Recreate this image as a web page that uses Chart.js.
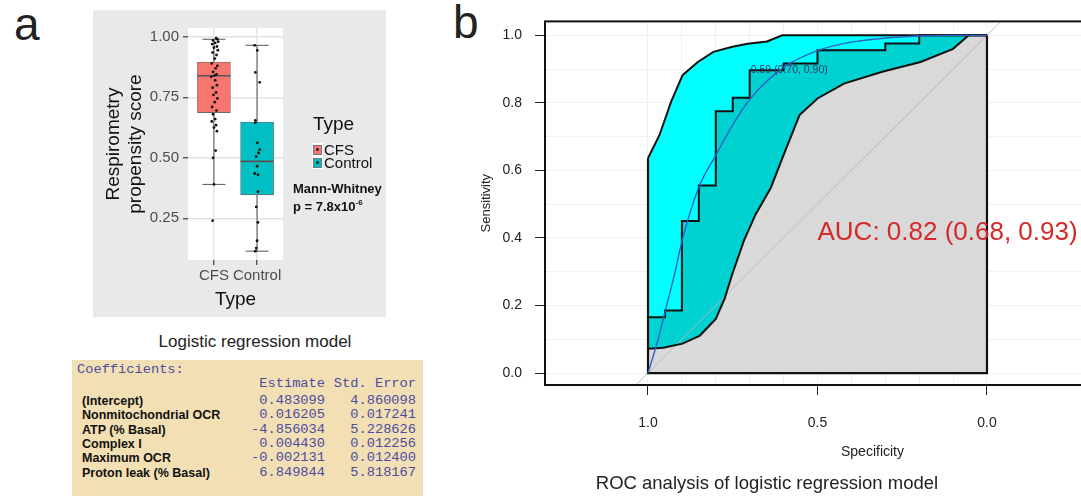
<!DOCTYPE html>
<html><head><meta charset="utf-8">
<title>Respirometry propensity score and ROC analysis</title>
<script src="https://cdn.jsdelivr.net/npm/chart.js@4.4.1/dist/chart.umd.min.js"></script>
<style>
 html,body{margin:0;padding:0;background:#fff;}
 body{width:1081px;height:498px;overflow:hidden;position:relative;font-family:"Liberation Sans",Arial,sans-serif;color:#111;}
 .t{position:absolute;white-space:nowrap;}
 #boxWrap{position:absolute;left:93px;top:10px;width:293px;height:307px;background:#e9e9e9;}
 #rocWrap{position:absolute;left:440px;top:0;width:641px;height:498px;overflow:hidden;}
 #coefTable{position:absolute;left:72px;top:360px;width:351px;height:136px;background:#f3dfb4;}
 .mono{font-family:"Liberation Mono","DejaVu Sans Mono",monospace;color:#4c4ca0;font-size:13.7px;line-height:14.3px;position:absolute;white-space:pre;}
 .rowlab{font-family:"Liberation Sans",Arial,sans-serif;font-weight:bold;font-size:12.5px;line-height:14.3px;color:#111;position:absolute;white-space:nowrap;}
 .key{position:absolute;width:7px;height:8px;border:1px solid #777;}
 .keydot{position:absolute;width:3px;height:3px;border-radius:50%;background:#222;}
</style></head><body>

<div class="t" style="left:14px;top:1px;font-size:46px;line-height:46px;color:#222;">a</div>
<div class="t" style="left:453px;top:-1px;font-size:46px;line-height:46px;color:#222;">b</div>

<div id="boxWrap"><canvas id="boxCanvas" width="293" height="307"></canvas></div>

<!-- legend of panel a -->
<div class="t" style="left:313px;top:112px;font-size:19px;line-height:24px;">Type</div>
<div style="position:absolute;left:312px;top:143px;width:11px;height:26px;background:#fff;"></div>
<div class="key" style="left:313px;top:145px;background:#F8766D;"></div>
<div class="keydot" style="left:316px;top:148px;"></div>
<div class="key" style="left:313px;top:158px;background:#00BFC4;"></div>
<div class="keydot" style="left:316px;top:161px;"></div>
<div class="t" style="left:324px;top:141px;font-size:15px;line-height:18px;">CFS</div>
<div class="t" style="left:324px;top:154px;font-size:15px;line-height:18px;">Control</div>
<div class="t" style="left:293px;top:181px;font-size:13px;line-height:16px;font-weight:bold;">Mann-Whitney</div>
<div class="t" style="left:293px;top:199px;font-size:13px;line-height:16px;font-weight:bold;">p = 7.8x10<sup style="font-size:8px;vertical-align:6px;line-height:0;">-6</sup></div>

<div class="t" style="left:0;width:510px;text-align:center;top:331px;font-size:17px;line-height:22px;color:#222;">Logistic regression model</div>
<div id="coefTable"></div>

<div id="rocWrap"><canvas id="rocCanvas" width="760" height="498"></canvas></div>
<div class="t" style="left:467px;width:600px;text-align:center;top:471px;font-size:18.5px;line-height:24px;color:#222;">ROC analysis of logistic regression model</div>

<script>
// ---------------- Panel a data ----------------
const boxCategories = ['CFS', 'Control'];
const boxColors = ['#F8766D', '#00BFC4'];
const boxWhiskerLow = [0.39, 0.114];
const boxQ1 = [0.687, 0.347];
const boxMedian = [0.839, 0.485];
const boxQ3 = [0.896, 0.648];
const boxWhiskerHigh = [0.99, 0.965];
const boxYTicks = [0.25, 0.5, 0.75, 1.0];

const cfsScores = [0.995,0.99,0.985,0.98,0.975,0.97,0.96,0.955,0.945,0.935,0.925,0.91,0.89,0.88,0.87,0.855,0.845,0.84,0.835,0.82,0.80,0.79,0.77,0.76,0.745,0.73,0.71,0.695,0.68,0.66,0.65,0.635,0.625,0.61,0.53,0.50,0.39,0.24];
const cfsJitter = [0.05,0.08,-0.02,0.10,0.03,-0.04,0.07,0.00,0.09,-0.03,0.06,0.02,-0.05,0.08,0.04,-0.02,0.06,0.01,-0.06,0.03,0.07,-0.03,0.05,-0.01,0.08,0.02,-0.04,0.06,-0.02,0.03,-0.05,0.05,0.00,0.07,0.04,-0.02,0.00,-0.03];
const controlScores = [0.965,0.944,0.853,0.812,0.655,0.645,0.562,0.534,0.52,0.505,0.465,0.435,0.43,0.36,0.297,0.233,0.157,0.127,0.114];
const controlJitter = [-0.055,0.005,-0.04,0.06,-0.04,-0.04,0.005,0.06,0.035,-0.02,0.0,-0.055,0.02,0.02,-0.02,0.02,0.0,-0.02,-0.04];

// ---------------- Panel b data ----------------
const rocSpecUpper = [1.0, 0.966, 0.932, 0.898, 0.853, 0.807, 0.751, 0.706, 0.649, 0.604, 0.0];
const rocSensUpper = [0.636, 0.705, 0.803, 0.882, 0.921, 0.951, 0.966, 0.975, 0.982, 1.0, 1.0];
const rocSpecStep = [1.0,1.0,0.95,0.95,0.90,0.90,0.85,0.85,0.80,0.80,0.75,0.75,0.70,0.70,0.60,0.60,0.50,0.50,0.30,0.30,0.20,0.20,0.0];
const rocSensStep = [0.0,0.165,0.165,0.185,0.185,0.45,0.45,0.555,0.555,0.775,0.775,0.815,0.815,0.897,0.897,0.917,0.917,0.956,0.956,0.976,0.976,1.0,1.0];
const rocSpecLower = [1.0, 0.955, 0.898, 0.847, 0.80, 0.774, 0.751, 0.717, 0.683, 0.638, 0.592, 0.553, 0.50, 0.422, 0.309, 0.196, 0.10, 0.054, 0.0];
const rocSensLower = [0.072, 0.075, 0.087, 0.111, 0.16, 0.22, 0.294, 0.392, 0.469, 0.548, 0.666, 0.764, 0.813, 0.857, 0.892, 0.921, 0.96, 1.0, 1.0];
const rocSpecSmooth = [1.0, 0.97, 0.95, 0.92, 0.90, 0.85, 0.80, 0.75, 0.70, 0.60, 0.50, 0.40, 0.30, 0.20, 0.10, 0.0];
const rocSensSmooth = [0.0, 0.10, 0.18, 0.30, 0.39, 0.55, 0.645, 0.735, 0.81, 0.905, 0.955, 0.98, 0.992, 0.998, 1.0, 1.0];
const rocGridTicks = [0,0.1,0.2,0.3,0.4,0.5,0.6,0.7,0.8,0.9,1.0];
const rocXLabelTicks = [1.0, 0.5, 0.0];
const rocYLabelTicks = [0.0, 0.2, 0.4, 0.6, 0.8, 1.0];
const bestThreshold = {threshold: 0.59, spec: 0.70, sens: 0.90};
const aucResult = {auc: 0.82, lower: 0.68, upper: 0.93};

// ---------------- Table data ----------------
const coefNames = ['(Intercept)', 'Nonmitochondrial OCR', 'ATP (% Basal)', 'Complex I', 'Maximum OCR', 'Proton leak (% Basal)'];
const coefEstimate = ['0.483099', '0.016205', '-4.856034', '0.004430', '-0.002131', '6.849844'];
const coefStdError = ['4.860098', '0.017241', '5.228626', '0.012256', '0.012400', '5.818167'];

Chart.defaults.font.family = '"Liberation Sans", Arial, sans-serif';
Chart.defaults.animation = false;

// ---------- table ----------
(function(){
  const tb = document.getElementById('coefTable');
  const rowH = 14.3;
  let html = '<div class="mono" style="left:5px;top:3px;">Coefficients:</div>';
  html += '<div class="mono" style="right:98px;top:' + (3 + rowH) + 'px;">Estimate</div>';
  html += '<div class="mono" style="right:7px;top:' + (3 + rowH) + 'px;">Std. Error</div>';
  coefNames.forEach((n, i) => {
    const top = 3 + rowH * (i + 2) + 2.4;
    html += '<div class="rowlab" style="left:10px;top:' + top + 'px;">' + n + '</div>';
    html += '<div class="mono" style="right:98px;top:' + top + 'px;">' + coefEstimate[i] + '</div>';
    html += '<div class="mono" style="right:7px;top:' + top + 'px;">' + coefStdError[i] + '</div>';
  });
  tb.innerHTML = html;
})();

// ---------- panel a : box plot ----------
const panelWhite = {
  id: 'panelWhite',
  beforeDraw(chart) {
    const {ctx, chartArea: a} = chart;
    ctx.save(); ctx.fillStyle = '#ffffff';
    ctx.fillRect(a.left, a.top, a.right - a.left, a.bottom - a.top);
    ctx.restore();
  }
};

const whiskerData = [];
boxCategories.forEach((c, i) => {
  whiskerData.push({x: i + 1, y: boxWhiskerLow[i]}, {x: i + 1, y: boxWhiskerHigh[i]}, {x: i + 1.5, y: null});
});

new Chart(document.getElementById('boxCanvas'), {
  type: 'scatter',
  data: {
    datasets: [
      { label: 'CFS', data: cfsScores.map((v, i) => ({x: 1 + cfsJitter[i], y: v})),
        pointRadius: 1.4, backgroundColor: '#111', borderWidth: 0, order: 1 },
      { label: 'Control', data: controlScores.map((v, i) => ({x: 2 + controlJitter[i], y: v})),
        pointRadius: 1.4, backgroundColor: '#111', borderWidth: 0, order: 1 },
      { label: 'median', data: boxMedian.map((v, i) => ({x: i + 1, y: v})),
        pointStyle: 'line', pointRadius: 16.5, borderColor: '#555', borderWidth: 1.6, order: 2 },
      { type: 'bar', label: 'box', data: boxQ1.map((v, i) => ({x: i + 1, y: [v, boxQ3[i]]})),
        backgroundColor: boxColors, borderColor: '#6a6a6a', borderWidth: 0.8, borderSkipped: false,
        barThickness: 33, order: 3 },
      { label: 'caps', data: boxCategories.flatMap((c, i) => [{x: i + 1, y: boxWhiskerLow[i]}, {x: i + 1, y: boxWhiskerHigh[i]}]),
        pointStyle: 'line', pointRadius: 11.5, borderColor: '#555', borderWidth: 1, order: 4 },
      { type: 'line', label: 'whiskers', data: whiskerData, borderColor: '#555', borderWidth: 1,
        pointRadius: 0, spanGaps: false, order: 5 }
    ]
  },
  options: {
    responsive: false,
    layout: {padding: {top: 11, right: 103, left: 0, bottom: 0}},
    plugins: {legend: {display: false}, tooltip: {enabled: false}},
    scales: {
      x: {
        type: 'linear', min: 0.4, max: 2.6, offset: false,
        afterBuildTicks: s => { s.ticks = boxCategories.map((c, i) => ({value: i + 1})); },
        afterFit: s => { s.height = 57; },
        ticks: { callback: v => boxCategories[Math.round(v) - 1], color: '#4d4d4d', font: {size: 15}, padding: 2, maxRotation: 0, autoSkip: false },
        grid: { color: '#e3e3e3', lineWidth: 1.4, tickColor: '#555', tickLength: 5, offset: false },
        border: {display: false},
        title: { display: true, text: 'Type', color: '#111', font: {size: 19}, padding: {top: 0, bottom: 6} }
      },
      y: {
        type: 'linear', min: 0.0775, max: 1.0361,
        afterBuildTicks: s => { s.ticks = boxYTicks.map(v => ({value: v})); },
        afterFit: s => { s.width = 95; },
        ticks: { callback: v => v.toFixed(2), color: '#4d4d4d', font: {size: 15}, padding: 4 },
        grid: { color: '#e3e3e3', lineWidth: 1.4, tickColor: '#555', tickLength: 5 },
        border: {display: false},
        title: { display: true, text: ['Respirometry', 'propensity score'], color: '#111', font: {size: 19}, padding: {top: 9, bottom: 0} }
      }
    }
  },
  plugins: [panelWhite]
});

// ---------- panel b : ROC ----------
const toPts = (xs, ys) => xs.map((v, i) => ({x: v, y: ys[i]}));
const xMin = -0.62837, xMax = 1.30383, yMin = -0.0354, yMax = 1.0413;

const rocDecor = {
  id: 'rocDecor',
  afterDatasetsDraw(chart) {
    const {ctx, scales: {x, y}} = chart;
    ctx.save();
    ctx.font = '10.5px "Liberation Sans", Arial, sans-serif';
    ctx.fillStyle = '#3a3a66'; ctx.textAlign = 'left'; ctx.textBaseline = 'middle';
    ctx.fillText(bestThreshold.threshold.toFixed(2) + ' (' + bestThreshold.spec.toFixed(2) + ', ' + bestThreshold.sens.toFixed(2) + ')',
      x.getPixelForValue(bestThreshold.spec) + 1, y.getPixelForValue(bestThreshold.sens) + 1);
    ctx.font = '26px "Liberation Sans", Arial, sans-serif';
    ctx.fillStyle = '#d42a2a';
    ctx.fillText('AUC: ' + aucResult.auc.toFixed(2) + ' (' + aucResult.lower.toFixed(2) + ', ' + aucResult.upper.toFixed(2) + ')',
      x.getPixelForValue(0.5), y.getPixelForValue(0.415));
    ctx.restore();
  },
  afterDraw(chart) {
    const {ctx, chartArea: a} = chart;
    ctx.save(); ctx.strokeStyle = '#111'; ctx.lineWidth = 2;
    ctx.strokeRect(a.left, a.top, a.right - a.left, a.bottom - a.top);
    ctx.restore();
  }
};

const isLabelX = v => rocXLabelTicks.some(t => Math.abs(t - v) < 1e-6);
const isLabelY = v => rocYLabelTicks.some(t => Math.abs(t - v) < 1e-6);

new Chart(document.getElementById('rocCanvas'), {
  type: 'scatter',
  data: {
    datasets: [
      { label: 'diagonal', data: [{x: xMax, y: 1 - xMax}, {x: xMin, y: 1 - xMin}], showLine: true,
        borderColor: '#bdbdbd', borderWidth: 1, pointRadius: 0, fill: false, order: 60 },
      { label: 'CI upper', data: toPts(rocSpecUpper, rocSensUpper), showLine: true, fill: 'origin',
        backgroundColor: '#00ffff', borderColor: '#111', borderWidth: 2, pointRadius: 0, order: 50 },
      { label: 'ROC', data: toPts(rocSpecStep, rocSensStep), showLine: true, fill: 'origin',
        backgroundColor: '#00d2d2', borderColor: '#111', borderWidth: 2, pointRadius: 0, order: 40 },
      { label: 'CI lower', data: toPts(rocSpecLower, rocSensLower), showLine: true, fill: 'origin',
        backgroundColor: '#d9d9d9', borderColor: '#111', borderWidth: 2, pointRadius: 0, order: 30 },
      { label: 'square', data: [{x: 1, y: rocSensUpper[0]}, {x: 1, y: 0}, {x: 0, y: 0}, {x: 0, y: 1}], showLine: true,
        borderColor: '#111', borderWidth: 2.2, pointRadius: 0, fill: false, order: 20 },
      { label: 'smooth', data: toPts(rocSpecSmooth, rocSensSmooth), showLine: true, fill: false,
        borderColor: '#2f62c8', borderWidth: 1.4, pointRadius: 0, cubicInterpolationMode: 'monotone', order: 10 }
    ]
  },
  options: {
    responsive: false,
    layout: {padding: {top: 20, right: 0, left: 0, bottom: 0}},
    plugins: {legend: {display: false}, tooltip: {enabled: false}, filler: {drawTime: 'beforeDatasetsDraw'}},
    scales: {
      x: {
        type: 'linear', reverse: true, min: xMin, max: xMax,
        afterBuildTicks: s => { s.ticks = rocGridTicks.map(v => ({value: v})); },
        afterFit: s => { s.height = 113; },
        ticks: { callback: v => isLabelX(v) ? v.toFixed(1) : '', color: '#222', font: {size: 14}, padding: 20, maxRotation: 0, autoSkip: false },
        grid: { color: 'rgba(0,0,0,0.055)', lineWidth: 1, tickColor: ctx => isLabelX(ctx.tick.value) ? '#222' : 'rgba(0,0,0,0)', tickLength: 10 },
        border: {display: false},
        title: { display: true, text: 'Specificity', color: '#222', font: {size: 14}, padding: {top: 0, bottom: 37} }
      },
      y: {
        type: 'linear', min: yMin, max: yMax,
        afterBuildTicks: s => { s.ticks = rocGridTicks.map(v => ({value: v})); },
        afterFit: s => { s.width = 105; },
        ticks: { callback: v => isLabelY(v) ? v.toFixed(1) : '', color: '#222', font: {size: 14}, padding: 13, autoSkip: false },
        grid: { color: 'rgba(0,0,0,0.055)', lineWidth: 1, tickColor: ctx => isLabelY(ctx.tick.value) ? '#222' : 'rgba(0,0,0,0)', tickLength: 10 },
        border: {display: false},
        title: { display: true, text: 'Sensitivity', color: '#222', font: {size: 13}, padding: {top: 39, bottom: 0} }
      }
    }
  },
  plugins: [rocDecor]
});
</script>
</body></html>
